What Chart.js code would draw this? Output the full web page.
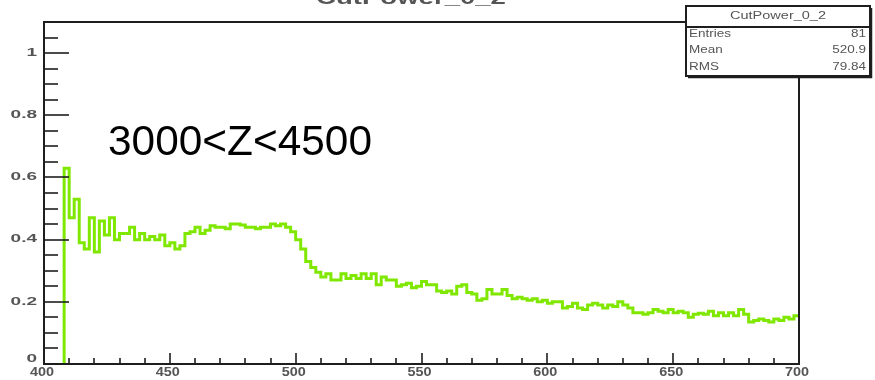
<!DOCTYPE html>
<html>
<head>
<meta charset="utf-8">
<script src="https://cdn.jsdelivr.net/npm/chart.js@4.4.0/dist/chart.umd.min.js"></script>
<style>
  body { margin: 0; background: #fff; }
  #wrap { width: 875px; height: 380px; }
</style>
</head>
<body>
<div id="wrap"><canvas id="chart" width="875" height="380"></canvas></div>
<script>
// Гистограмма: левый край первого бина и ширина бина
const binLow = 408;
const binWidth = 2;

// Содержимое бинов
const binsA = [0.63, 0.47, 0.53, 0.39, 0.37, 0.47, 0.36, 0.46, 0.415, 0.47, 0.40, 0.42,
               0.42, 0.44, 0.40, 0.42, 0.40, 0.41, 0.40, 0.415, 0.38, 0.39, 0.37, 0.38];
const binsB = [0.42, 0.425, 0.44, 0.42, 0.43, 0.445, 0.44, 0.44, 0.435, 0.45, 0.45, 0.447,
               0.44, 0.44, 0.435, 0.44, 0.44, 0.45, 0.445, 0.45, 0.44, 0.425, 0.40, 0.37];
const binsC = [0.33, 0.31, 0.295, 0.28, 0.29, 0.27, 0.27, 0.29, 0.275, 0.285, 0.275, 0.29,
               0.275, 0.29, 0.255, 0.28, 0.27, 0.27, 0.25, 0.255, 0.26, 0.245, 0.25, 0.265, 0.255];
const binsD = [0.255, 0.235, 0.23, 0.235, 0.225, 0.25, 0.255, 0.23, 0.225, 0.205, 0.21, 0.24,
               0.225, 0.225, 0.24, 0.22, 0.21, 0.215, 0.21, 0.205, 0.21, 0.2, 0.205, 0.195, 0.2];
const binsE = [0.2, 0.18, 0.185, 0.195, 0.18, 0.175, 0.19, 0.195, 0.19, 0.18, 0.19, 0.185,
               0.2, 0.19, 0.18, 0.165, 0.165, 0.16, 0.165, 0.175, 0.17, 0.165, 0.175, 0.165, 0.17];
const binsF = [0.165, 0.15, 0.16, 0.163, 0.16, 0.17, 0.155, 0.165, 0.155, 0.165, 0.155, 0.175,
               0.16, 0.135, 0.14, 0.145, 0.14, 0.135, 0.145, 0.14, 0.15, 0.145, 0.155];

// Оси
const xMin = 400, xMax = 700;
const yMin = 0, yMax = 1.1;
const xTicks = [400, 450, 500, 550, 600, 650, 700];
const xTickLabels = ['400', '450', '500', '550', '600', '650', '700'];
const yTicks = [0, 0.2, 0.4, 0.6, 0.8, 1];
const yTickLabels = ['0', '0.2', '0.4', '0.6', '0.8', '1'];

// Тексты
const histName = 'CutPower_0_2';
const statsNames = ['Entries', 'Mean', 'RMS'];
const statsValues = ['81', '520.9', '79.84'];
const note = '3000<Z<4500';

const bins = [].concat(binsA, binsB, binsC, binsD, binsE, binsF);

// точки для ступенчатой линии
const points = [{ x: binLow, y: 0 }];
bins.forEach((v, i) => points.push({ x: binLow + i * binWidth, y: v }));
points.push({ x: binLow + bins.length * binWidth, y: bins[bins.length - 1] });

function stretchedText(ctx, text, x, y, sx, align) {
    ctx.save();
    ctx.translate(x, y);
    ctx.scale(sx, 1);
    ctx.textAlign = align;
    ctx.fillText(text, 0, 0);
    ctx.restore();
}

const rootStyle = {
    id: 'rootStyle',
    afterDraw(chart) {
        const ctx = chart.ctx;
        const a = chart.chartArea;
        const xs = chart.scales.x, ys = chart.scales.y;
        const boxL = 686, boxR = 870, boxT = 6, boxB = 76;

        ctx.save();
        ctx.strokeStyle = '#1e1e1e';
        ctx.lineWidth = 2;

        // рамка
        ctx.beginPath();
        ctx.moveTo(boxL, a.top); ctx.lineTo(a.left, a.top);
        ctx.lineTo(a.left, a.bottom); ctx.lineTo(a.right, a.bottom);
        ctx.lineTo(a.right, boxB);
        ctx.stroke();

        // деления по Y
        ctx.lineWidth = 1.6;
        for (let v = 0; v <= 1.06; v += 0.05) {
            const y = Math.round(ys.getPixelForValue(v));
            const major = Math.abs(v / 0.2 - Math.round(v / 0.2)) < 0.01;
            ctx.beginPath();
            ctx.moveTo(a.left, y);
            ctx.lineTo(a.left + (major ? 25 : 14), y);
            ctx.stroke();
        }
        // деления по X
        for (let v = xMin; v <= xMax; v += 10) {
            const x = Math.round(xs.getPixelForValue(v));
            const major = v % 50 === 0;
            ctx.beginPath();
            ctx.moveTo(x, a.bottom);
            ctx.lineTo(x, a.bottom - (major ? 11 : 6));
            ctx.stroke();
        }

        // подписи осей
        ctx.fillStyle = '#555';
        ctx.textBaseline = 'middle';
        ctx.font = 'bold 10px "Liberation Sans"';
        yTicks.forEach((v, i) => {
            const y = ys.getPixelForValue(v);
            stretchedText(ctx, yTickLabels[i], 37, i === 0 ? y - 5 : y, 1.9, 'right');
        });
        ctx.font = 'bold 12px "Liberation Sans"';
        ctx.textBaseline = 'top';
        xTicks.forEach((v, i) => {
            const x = xs.getPixelForValue(v);
            stretchedText(ctx, xTickLabels[i], x - 2, a.bottom + 3, 1.2, 'center');
        });

        // заголовок (обрезан сверху)
        ctx.font = 'bold 19px "Liberation Sans"';
        ctx.textBaseline = 'alphabetic';
        ctx.fillStyle = '#555';
        stretchedText(ctx, histName, 411, 4, 1.45, 'center');

        // панель статистики
        ctx.fillStyle = '#fff';
        ctx.fillRect(boxL, boxT, boxR - boxL, boxB - boxT);
        ctx.strokeStyle = '#1e1e1e';
        ctx.lineWidth = 2;
        ctx.strokeRect(boxL, boxT, boxR - boxL, boxB - boxT);
        ctx.beginPath();
        ctx.moveTo(boxL, 27); ctx.lineTo(boxR, 27);
        ctx.stroke();
        ctx.lineWidth = 1.5;
        ctx.beginPath();
        ctx.moveTo(boxL + 2, boxB + 1.5); ctx.lineTo(boxR + 1.5, boxB + 1.5);
        ctx.lineTo(boxR + 1.5, boxT + 2);
        ctx.stroke();

        ctx.fillStyle = '#555';
        ctx.font = '10px "Liberation Sans"';
        ctx.textBaseline = 'middle';
        stretchedText(ctx, histName, (boxL + boxR) / 2, 16, 1.45, 'center');
        statsNames.forEach((n, i) => {
            const y = 34 + i * 16.5;
            stretchedText(ctx, n, boxL + 3, y, 1.35, 'left');
            stretchedText(ctx, statsValues[i], boxR - 4, y, 1.35, 'right');
        });

        // надпись, растянутая до ширины оригинала
        ctx.fillStyle = '#000';
        ctx.font = '42px "Liberation Sans"';
        ctx.textBaseline = 'alphabetic';
        const w = ctx.measureText(note).width;
        stretchedText(ctx, note, 108, 155, 264 / w, 'left');
        ctx.restore();
    }
};

new Chart(document.getElementById('chart'), {
    type: 'line',
    data: {
        datasets: [{
            data: points,
            borderColor: '#80e800',
            borderWidth: 3,
            stepped: true,
            pointRadius: 0,
            fill: false
        }]
    },
    options: {
        responsive: false,
        animation: false,
        devicePixelRatio: 1,
        layout: { padding: { left: 44, right: 76, top: 22, bottom: 16 } },
        plugins: { legend: { display: false }, tooltip: { enabled: false } },
        scales: {
            x: { type: 'linear', min: xMin, max: xMax, display: false },
            y: { type: 'linear', min: yMin, max: yMax, display: false }
        }
    },
    plugins: [rootStyle]
});
</script>
</body>
</html>
